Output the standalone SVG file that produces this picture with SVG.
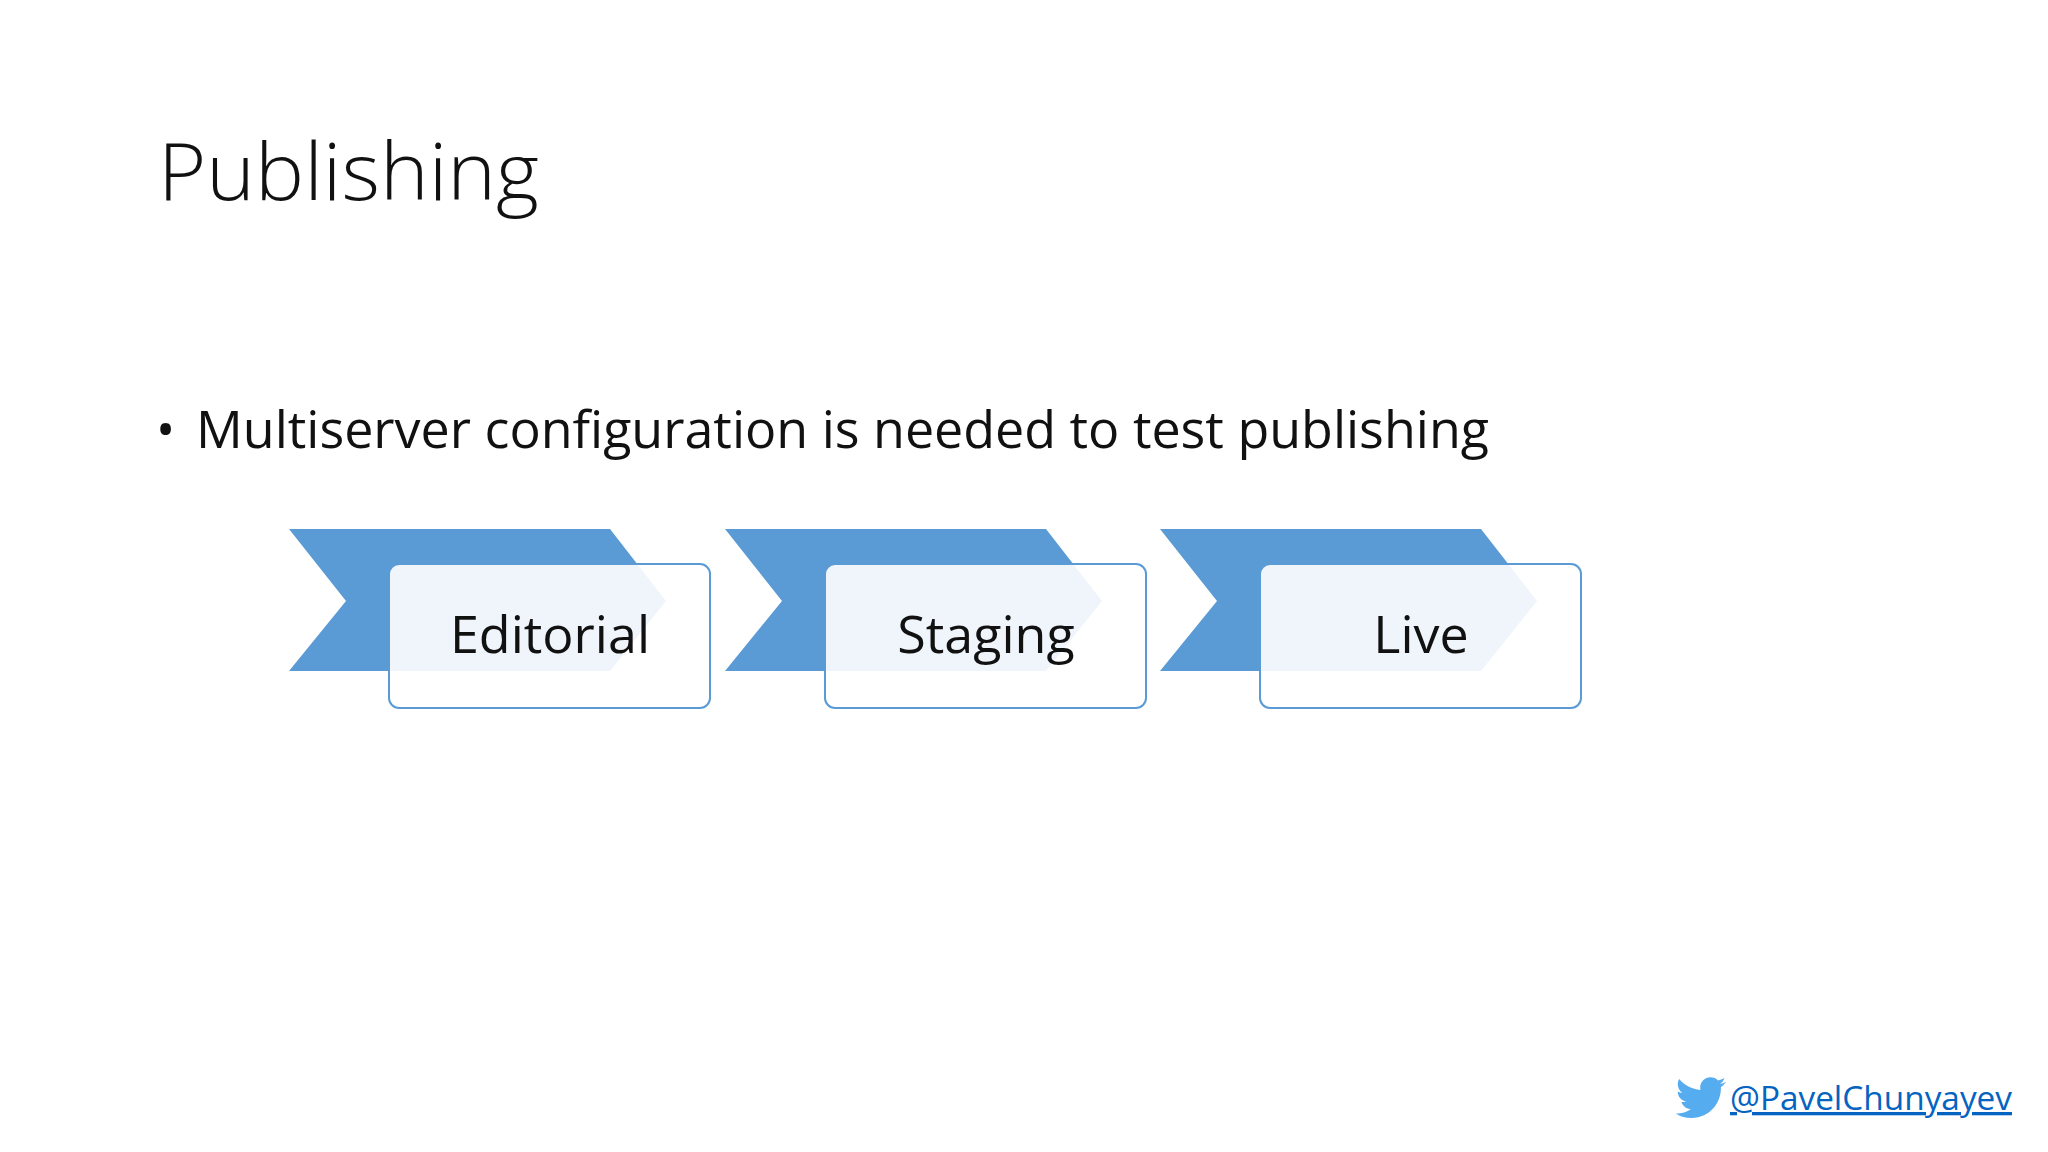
<svg xmlns="http://www.w3.org/2000/svg" width="2048" height="1152" viewBox="0 0 2048 1152">
<defs><style>
.t{font-family:"Open Sans","Liberation Sans",sans-serif;fill:#111}
.chev{fill:#5b9bd5}
.box{fill:#fff;fill-opacity:0.9;stroke:#5b9bd5;stroke-width:2}
.lbl{font-family:"Open Sans","Liberation Sans",sans-serif;font-size:52px;fill:#111;text-anchor:middle}
</style></defs>
<rect width="2048" height="1152" fill="#fff"/>
<text class="t" x="158" y="200" font-size="80" font-weight="300" textLength="381" lengthAdjust="spacingAndGlyphs">Publishing</text>
<text class="t" x="156" y="448" font-size="51">•</text>
<text class="t" x="196" y="448" font-size="51" textLength="1293" lengthAdjust="spacingAndGlyphs">Multiserver configuration is needed to test publishing</text>
<g id="editorial">
<polygon class="chev" points="289,529 610,529 666,601 610,671 289,671 346,601"/>
<rect class="box" x="389" y="564" width="321" height="144" rx="10"/>
<text class="lbl" x="550" y="653">Editorial</text>
</g>
<g id="staging">
<polygon class="chev" points="725,529 1046,529 1102,601 1046,671 725,671 782,601"/>
<rect class="box" x="825" y="564" width="321" height="144" rx="10"/>
<text class="lbl" x="986" y="653">Staging</text>
</g>
<g id="live">
<polygon class="chev" points="1160,529 1481,529 1537,601 1481,671 1160,671 1217,601"/>
<rect class="box" x="1260" y="564" width="321" height="144" rx="10"/>
<text class="lbl" x="1421" y="653">Live</text>
</g>
<g id="connectors"></g>
<g id="twitter">
<path fill="#55acee" d="M1726,1082c-2,1-4,1.5-6,2c2-1.5 3.5-3.5 4.5-6c-2,1.2-4.5,2-6.5,2.5c-2-2-4.5-3.2-7.5-3.2c-5.7,0-10.3,4.6-10.300,10.3c0,0.8 0.1,1.6 0.3,2.3c-8.6-0.4-16.2-4.5-21.3-10.8c-0.9,1.5-1.4,3.3-1.4,5.2c0,3.6 1.8,6.7 4.6,8.6c-1.7,0-3.3-0.5-4.7-1.3c0,5 3.6,9.2 8.3,10.1c-0.9,0.2-1.8,0.4-2.7,0.4c-0.7,0-1.3-0.1-1.9-0.2c1.3,4.1 5.1,7.1 9.6,7.2c-3.5,2.8-8,4.4-12.8,4.4c-0.8,0-1.7,0-2.5-0.1c4.6,2.9 10,4.6 15.8,4.6c19,0 29.4-15.7 29.4-29.4l0-1.3c2-1.5 3.8-3.3 5.2-5.3z"/>
<text x="1730" y="1110" font-family="Open Sans,Liberation Sans,sans-serif" font-size="33" fill="#0563c1" text-decoration="underline" textLength="282" lengthAdjust="spacingAndGlyphs">@PavelChunyayev</text>
</g>
</svg>
